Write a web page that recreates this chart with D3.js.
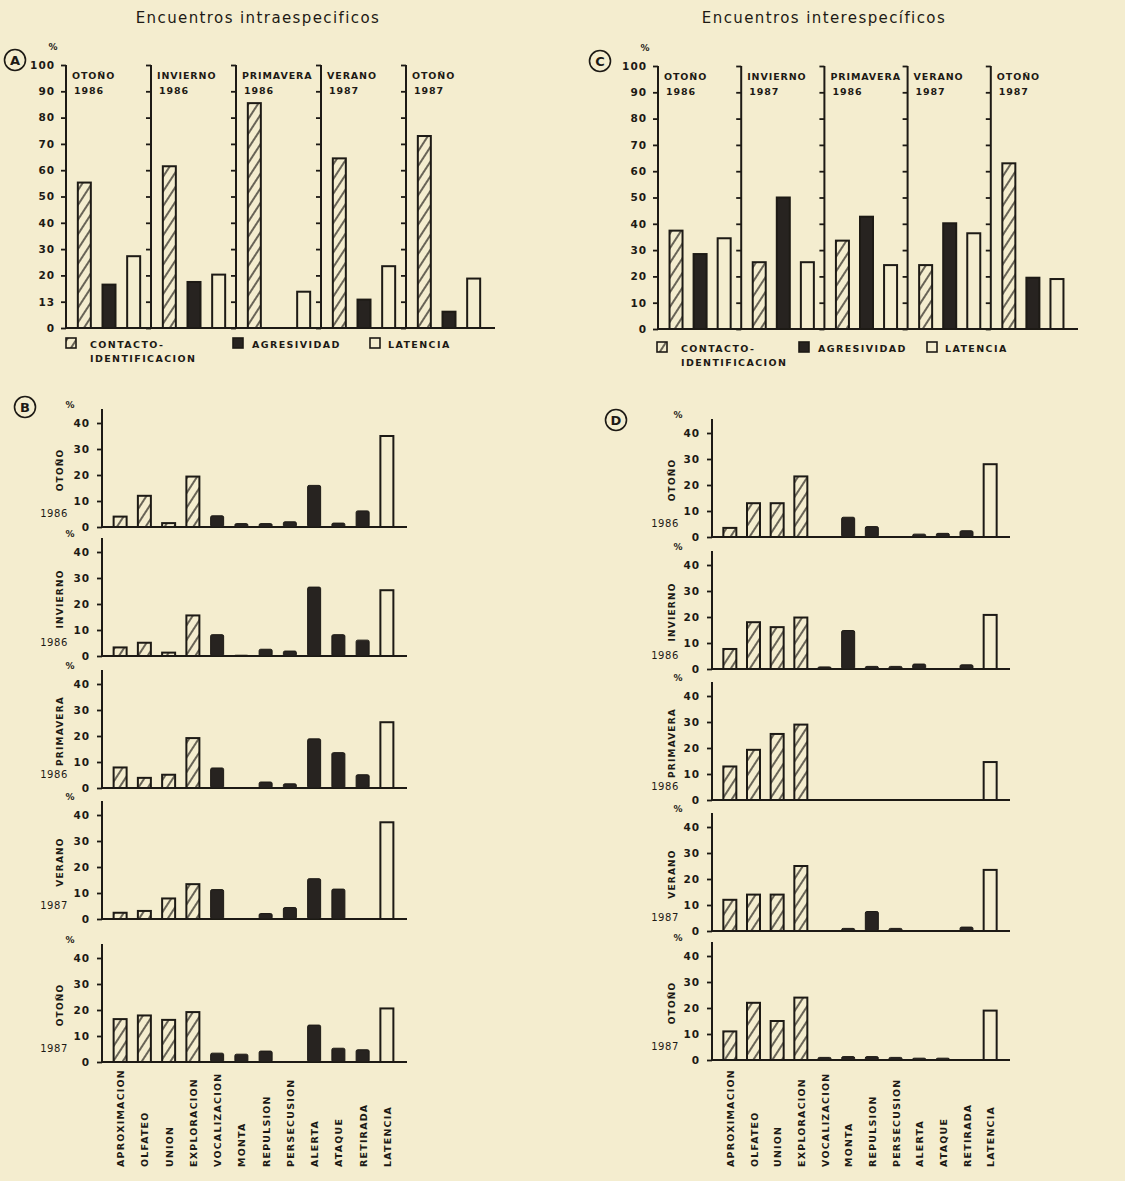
<!DOCTYPE html>
<html>
<head>
<meta charset="utf-8">
<script src="https://cdn.jsdelivr.net/npm/d3@7"></script>
<style>
  body { margin: 0; background: #f4edcf; }
  svg { display: block; }
  text { font-family: "DejaVu Sans", sans-serif; fill: #1d1a15; }
</style>
</head>
<body>
<svg id="chart" width="1125" height="1181"></svg>
<script>
// --- data ---
const seriesNames = ["CONTACTO-IDENTIFICACION", "AGRESIVIDAD", "LATENCIA"];

// panel A: intraspecific encounters per season
const seasonNamesA = ["OTOÑO", "INVIERNO", "PRIMAVERA", "VERANO", "OTOÑO"];
const seasonYearsA = ["1986", "1986", "1986", "1987", "1987"];
const contactoA = [55.3, 61.5, 85.5, 64.5, 73];
const agresividadA = [16.5, 17.5, 0, 10.8, 6.2];
const latenciaA = [27.3, 20.3, 13.8, 23.5, 18.8];

// panel C: interspecific encounters per season
const seasonNamesC = ["OTOÑO", "INVIERNO", "PRIMAVERA", "VERANO", "OTOÑO"];
const seasonYearsC = ["1986", "1987", "1986", "1987", "1987"];
const contactoC = [37.4, 25.4, 33.6, 24.3, 63];
const agresividadC = [28.5, 50, 42.7, 40.2, 19.5];
const latenciaC = [34.5, 25.4, 24.3, 36.4, 19];

const tickValuesTop = [0, 10, 20, 30, 40, 50, 60, 70, 80, 90, 100];
const tickLabelsTop = ["0", "13", "20", "30", "40", "50", "60", "70", "80", "90", "100"];
const tickLabelsTopC = ["0", "10", "20", "30", "40", "50", "60", "70", "80", "90", "100"];

// panels B and D: behaviours
const behaviours = ["APROXIMACION", "OLFATEO", "UNION", "EXPLORACION", "VOCALIZACION", "MONTA",
  "REPULSION", "PERSECUSION", "ALERTA", "ATAQUE", "RETIRADA", "LATENCIA"];
const behaviourGroup = ["contacto", "contacto", "contacto", "contacto", "agresividad", "agresividad",
  "agresividad", "agresividad", "agresividad", "agresividad", "agresividad", "latencia"];
const subNames = ["OTOÑO", "INVIERNO", "PRIMAVERA", "VERANO", "OTOÑO"];
const subYears = ["1986", "1986", "1986", "1987", "1987"];
const tickValuesSub = [0, 10, 20, 30, 40];

const bOtono86 = [4, 12, 1.5, 19.4, 4.3, 1.3, 1.3, 2, 16, 1.5, 6.2, 35];
const bInvierno86 = [3.3, 5.1, 1.3, 15.6, 8.2, 0.3, 2.6, 1.9, 26.5, 8.2, 6.1, 25.3];
const bPrimavera86 = [7.9, 3.9, 5.1, 19.2, 7.7, 0, 2.3, 1.6, 18.9, 13.6, 5.1, 25.3];
const bVerano87 = [2.4, 3.1, 7.9, 13.4, 11.3, 0, 2.1, 4.4, 15.5, 11.5, 0, 37.2];
const bOtono87 = [16.5, 17.9, 16.2, 19.2, 3.4, 3, 4.2, 0, 14.2, 5.3, 4.7, 20.6];

const dOtono86 = [3.5, 13, 13, 23.3, 0, 7.6, 4, 0, 1.1, 1.4, 2.4, 28];
const dInvierno86 = [7.7, 18, 16.1, 19.8, 0.8, 14.8, 1, 1, 1.9, 0, 1.6, 20.8];
const dPrimavera86 = [12.9, 19.3, 25.4, 29, 0, 0, 0, 0, 0, 0, 0, 14.6];
const dVerano87 = [12, 14, 14, 25, 0, 1, 7.5, 1, 0, 0, 1.5, 23.5];
const dOtono87 = [11, 22, 15, 24, 1, 1.3, 1.3, 1, 0.7, 0.7, 0, 19];

// --- drawing ---
const ink = "#1d1a15";
const svg = d3.select("#chart");

const defs = svg.append("defs");
defs.append("pattern")
    .attr("id", "hatch")
    .attr("patternUnits", "userSpaceOnUse")
    .attr("width", 8).attr("height", 10)
    .attr("patternTransform", "rotate(33)")
  .append("line")
    .attr("x1", 1).attr("y1", 0).attr("x2", 1).attr("y2", 10)
    .attr("stroke", ink).attr("stroke-width", 1.3);

const fillFor = {contacto: "url(#hatch)", agresividad: "#272320", latencia: "#f4edcf"};
const seriesKey = ["contacto", "agresividad", "latencia"];

function panelLetter(x, y, letter) {
  svg.append("circle").attr("cx", x).attr("cy", y).attr("r", 10.5)
    .attr("fill", "none").attr("stroke", ink).attr("stroke-width", 1.6);
  svg.append("text").attr("x", x).attr("y", y + 5).attr("text-anchor", "middle")
    .style("font-size", "13px").style("font-weight", "bold").text(letter);
}

function title(x, txt) {
  svg.append("text").attr("x", x).attr("y", 23).attr("text-anchor", "middle")
    .style("font-size", "15px").style("letter-spacing", "1.4px").text(txt);
}

function styleAxis(g) {
  g.select(".domain").remove();
  g.selectAll("line").attr("stroke", ink).attr("stroke-width", 1.8);
  g.selectAll("text").style("font-size", "10.5px").style("font-weight", "bold")
    .style("letter-spacing", "1px").attr("fill", ink);
}

function seasonPanel(opts) {
  const {left, right, top, bottom, names, years, values, tickLabels} = opts;
  const y = d3.scaleLinear().domain([0, 100]).range([bottom, top]);
  const x = d3.scaleBand().domain(d3.range(names.length)).range([left, right]);
  const inner = d3.scaleBand().domain(seriesKey).range([6, x.bandwidth() - 5]);
  const bw = 13;

  names.forEach((n, i) => {
    const ax = x(i);
    const g = svg.append("g").attr("transform", `translate(${ax},0)`)
      .call(d3.axisLeft(y).tickValues(tickValuesTop).tickSize(5).tickPadding(6)
        .tickFormat(i === 0 ? (d, k) => tickLabels[k] : ""));
    styleAxis(g);
    svg.append("line").attr("x1", ax).attr("x2", ax).attr("y1", y(100)).attr("y2", y(0))
      .attr("stroke", ink).attr("stroke-width", 2);

    svg.append("text").attr("x", ax + 6).attr("y", y(100) + 14)
      .style("font-size", "9.5px").style("font-weight", "bold").style("letter-spacing", "0.9px")
      .text(n);
    svg.append("text").attr("x", ax + 8).attr("y", y(100) + 29)
      .style("font-size", "9.5px").style("font-weight", "bold").style("letter-spacing", "0.9px")
      .text(years[i]);

    seriesKey.forEach((s, k) => {
      const v = values[k][i];
      if (v <= 0) return;
      svg.append("rect")
        .attr("x", ax + inner(s) + (inner.bandwidth() - bw) / 2)
        .attr("y", y(v)).attr("width", bw).attr("height", y(0) - y(v))
        .attr("fill", fillFor[s]).attr("stroke", ink).attr("stroke-width", 2);
    });
  });

  svg.append("line").attr("x1", left).attr("x2", right + 4).attr("y1", y(0)).attr("y2", y(0))
    .attr("stroke", ink).attr("stroke-width", 2);
  svg.append("text").attr("x", left - 13).attr("y", top - 15).attr("text-anchor", "middle")
    .style("font-size", "9px").style("font-weight", "bold").text("%");
}

function legend(xs, yTop) {
  seriesKey.forEach((s, k) => {
    svg.append("rect").attr("x", xs[k]).attr("y", yTop).attr("width", 10).attr("height", 10)
      .attr("fill", fillFor[s]).attr("stroke", ink).attr("stroke-width", 1.6);
    const parts = seriesNames[k].split("-");
    parts.forEach((p, j) => {
      svg.append("text").attr("x", xs[k] + (k === 2 ? 18 : k === 1 ? 19 : 24))
        .attr("y", yTop + 10 + j * 14)
        .style("font-size", "9.5px").style("letter-spacing", "1.4px").style("font-weight", "bold")
        .text(j === 0 && parts.length > 1 ? p + "-" : p);
    });
  });
}

function behaviourPanel(opts) {
  const {axisX, right, bottoms, series, labelX, yearX, pctX} = opts;
  const x = d3.scaleBand().domain(behaviours).range([axisX + 6, right - 8]).paddingInner(0.46).paddingOuter(0.23);
  const bw = 13;
  bottoms.forEach((b, i) => {
    const y = d3.scaleLinear().domain([0, 40]).range([b, b - 104]);
    const g = svg.append("g").attr("transform", `translate(${axisX},0)`)
      .call(d3.axisLeft(y).tickValues(tickValuesSub).tickSize(5).tickPadding(7));
    styleAxis(g);
    svg.append("line").attr("x1", axisX).attr("x2", axisX).attr("y1", y(40) - 14).attr("y2", y(0))
      .attr("stroke", ink).attr("stroke-width", 2);
    svg.append("line").attr("x1", axisX).attr("x2", right).attr("y1", y(0)).attr("y2", y(0))
      .attr("stroke", ink).attr("stroke-width", 2);
    svg.append("text").attr("x", pctX).attr("y", y(40) - 15).attr("text-anchor", "middle")
      .style("font-size", "9px").style("font-weight", "bold").text("%");
    svg.append("text")
      .attr("transform", `translate(${labelX},${b - 57}) rotate(-90)`)
      .attr("text-anchor", "middle")
      .style("font-size", "9px").style("font-weight", "bold").style("letter-spacing", "1.2px")
      .text(subNames[i]);
    svg.append("text").attr("x", yearX).attr("y", b - 10).attr("text-anchor", "end")
      .style("font-size", "10px").style("letter-spacing", "0.6px")
      .text(subYears[i]);

    svg.append("g").selectAll("rect")
      .data(series[i].map((v, k) => ({cat: behaviours[k], v, grp: behaviourGroup[k]})).filter(d => d.v > 0))
      .enter().append("rect")
        .attr("x", d => x(d.cat) + (x.bandwidth() - bw) / 2)
        .attr("y", d => y(d.v))
        .attr("width", bw)
        .attr("height", d => y(0) - y(d.v))
        .attr("fill", d => fillFor[d.grp])
        .attr("stroke", ink).attr("stroke-width", d => d.grp === "agresividad" ? 1 : 2)
        .attr("rx", d => d.grp === "agresividad" ? 1.5 : 0);
  });

  svg.append("g").selectAll("text")
    .data(behaviours)
    .enter().append("text")
      .attr("transform", d => `translate(${x(d) + x.bandwidth() / 2 + 4},1167) rotate(-90)`)
      .style("font-size", "9.5px").style("font-weight", "bold").style("letter-spacing", "1.2px")
      .text(d => d);
}

title(258, "Encuentros intraespecificos");
title(824, "Encuentros interespecíficos");

panelLetter(15, 60, "A");
seasonPanel({left: 66, right: 491, top: 65, bottom: 328,
  names: seasonNamesA, years: seasonYearsA,
  values: [contactoA, agresividadA, latenciaA], tickLabels: tickLabelsTop});
legend([66, 233, 370], 338);

panelLetter(600, 61, "C");
seasonPanel({left: 658, right: 1074, top: 66, bottom: 329,
  names: seasonNamesC, years: seasonYearsC,
  values: [contactoC, agresividadC, latenciaC], tickLabels: tickLabelsTopC});
legend([657, 799, 927], 342);

panelLetter(25, 407, "B");
behaviourPanel({axisX: 102, right: 407, bottoms: [527, 656, 788, 919, 1062],
  series: [bOtono86, bInvierno86, bPrimavera86, bVerano87, bOtono87],
  labelX: 63, yearX: 68, pctX: 70});

panelLetter(616, 420, "D");
behaviourPanel({axisX: 712, right: 1010, bottoms: [537, 669, 800, 931, 1060],
  series: [dOtono86, dInvierno86, dPrimavera86, dVerano87, dOtono87],
  labelX: 675, yearX: 679, pctX: 678});
</script>
</body>
</html>
